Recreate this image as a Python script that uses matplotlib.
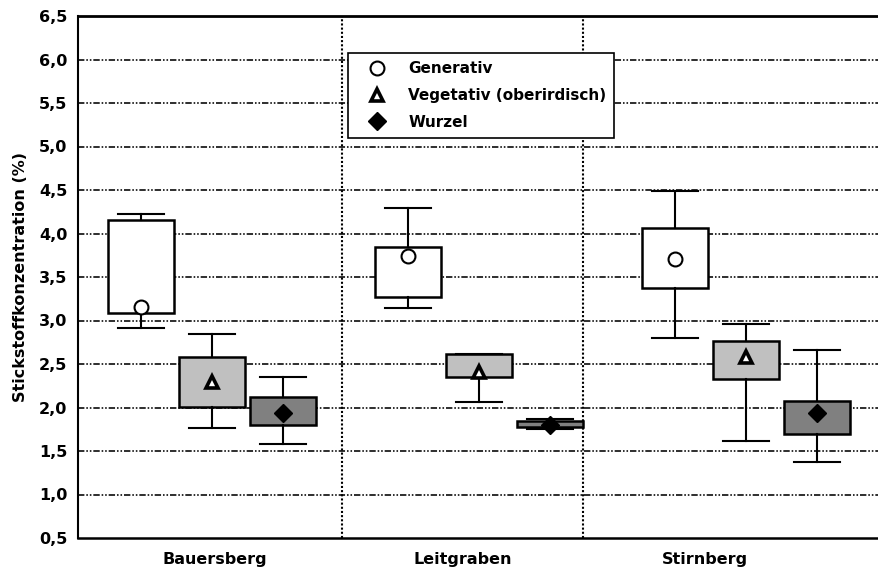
import matplotlib
matplotlib.use("Agg")
import matplotlib.pyplot as plt

sites = ['Bauersberg', 'Leitgraben', 'Stirnberg']
series = ['Generativ', 'Vegetativ (oberirdisch)', 'Wurzel']

# per series: lists over sites
gen_whislo = [2.91, 3.14, 2.80]
gen_q1     = [3.09, 3.27, 3.37]
gen_mark   = [3.15, 3.74, 3.71]
gen_q3     = [4.15, 3.85, 4.06]
gen_whishi = [4.22, 4.29, 4.49]

veg_whislo = [1.76, 2.06, 1.62]
veg_q1     = [2.01, 2.35, 2.33]
veg_mark   = [2.29, 2.41, 2.58]
veg_q3     = [2.58, 2.61, 2.77]
veg_whishi = [2.84, 2.62, 2.96]

wur_whislo = [1.58, 1.75, 1.37]
wur_q1     = [1.80, 1.78, 1.69]
wur_mark   = [1.94, 1.80, 1.94]
wur_q3     = [2.12, 1.85, 2.08]
wur_whishi = [2.35, 1.87, 2.66]

yticks = [0.5, 1.0, 1.5, 2.0, 2.5, 3.0, 3.5, 4.0, 4.5, 5.0, 5.5, 6.0, 6.5]
ytick_labels = ['0,5', '1,0', '1,5', '2,0', '2,5', '3,0', '3,5', '4,0', '4,5', '5,0', '5,5', '6,0', '6,5']

data = [
    (gen_whislo, gen_q1, gen_mark, gen_q3, gen_whishi),
    (veg_whislo, veg_q1, veg_mark, veg_q3, veg_whishi),
    (wur_whislo, wur_q1, wur_mark, wur_q3, wur_whishi),
]
facecolors = ['white', '#c0c0c0', '#808080']
markers = [dict(marker='o', markerfacecolor='white', markeredgecolor='black', markersize=10, markeredgewidth=1.5),
           dict(marker='^', markerfacecolor='white', markeredgecolor='black', markersize=8.5, markeredgewidth=2.6),
           dict(marker='D', markerfacecolor='black', markeredgecolor='black', markersize=9.5, markeredgewidth=1)]

FONT = 'DejaVu Sans'
plt.rcParams['font.family'] = FONT
plt.rcParams['font.weight'] = 'bold'

fig = plt.figure(figsize=(8.79, 5.68), dpi=100)
ax = fig.add_axes([78.5 / 879, 30 / 568, 801 / 879, 522 / 568])

offsets = [-0.265, 0.0, 0.265]
box_w = 0.246
cap_w = 0.172

grid_style = (0, (4, 1.2, 1, 1.2, 1, 1.2))
for yv in yticks[1:-1]:
    ax.axhline(yv, color='black', lw=1.15, ls=grid_style, zorder=1)

for si, (wl, q1, mk, q3, wh) in enumerate(data):
    stats = []
    for i in range(len(sites)):
        stats.append(dict(whislo=wl[i], q1=q1[i], med=mk[i], mean=mk[i], q3=q3[i], whishi=wh[i], fliers=[]))
    pos = [i + offsets[si] for i in range(len(sites))]
    ax.bxp(stats, positions=pos, widths=box_w, capwidths=cap_w, patch_artist=True,
           showmeans=True, showfliers=False, manage_ticks=False,
           boxprops=dict(facecolor=facecolors[si], edgecolor='black', linewidth=1.8),
           whiskerprops=dict(color='black', linewidth=1.5),
           capprops=dict(color='black', linewidth=1.5),
           medianprops=dict(linewidth=0, alpha=0),
           meanprops=dict(linestyle='none', **markers[si]),
           zorder=3)

# dividers
for xv in [0.487, 1.39]:
    ax.axvline(xv, color='black', lw=1.5, ls=(0, (1, 1)), zorder=2)

ax.set_xlim(-0.5, 2.5)
ax.set_ylim(0.5, 6.5)
ax.set_yticks(yticks)
ax.set_yticklabels(ytick_labels, fontsize=11.5, fontweight='bold')
ax.set_xticks([0.011, 0.94, 1.846])
ax.set_xticklabels(sites, fontsize=11.5, fontweight='bold')
ax.tick_params(axis='both', length=0)
ax.tick_params(axis='y', pad=8)
ax.tick_params(axis='x', pad=10)
ax.set_ylabel('Stickstoffkonzentration (%)', fontsize=11.5, fontweight='bold', labelpad=8)

ax.spines['right'].set_visible(False)
ax.spines['top'].set_linewidth(2)
ax.spines['left'].set_linewidth(1.5)
ax.spines['bottom'].set_linewidth(1.8)

handles = [plt.Line2D([], [], linestyle='none', **m) for m in markers]
leg = ax.legend(handles, series, loc='upper left', bbox_to_anchor=(0.336, 0.770, 0.333, 0.160),
                mode='expand', frameon=True, fancybox=False, edgecolor='black', framealpha=1,
                borderpad=0.55, labelspacing=0.78, handletextpad=0.63,
                handlelength=2.8, borderaxespad=0, prop=dict(weight='bold', size=11))
leg.get_frame().set_linewidth(1.2)
leg.set_zorder(5)

fig.savefig('out.png', dpi=100)
